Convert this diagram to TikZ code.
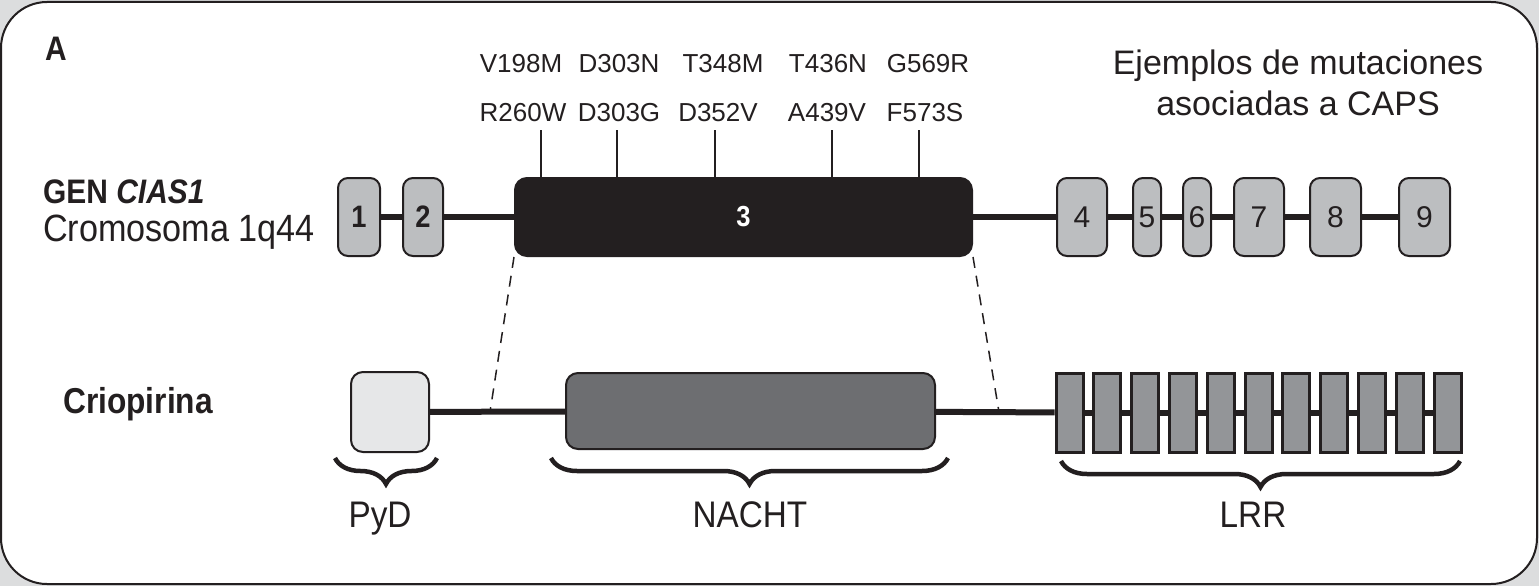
\documentclass[tikz,border=0pt]{standalone}
\usepackage{fontspec}
\setmainfont{Liberation Sans}
\newfontfamily\condbf{Liberation Sans}[FakeStretch=0.88]
\newfontfamily\condrm{Liberation Sans}[FakeStretch=0.9]
\usetikzlibrary{decorations.pathreplacing,positioning}

\definecolor{ink}{HTML}{231F20}
\definecolor{exongray}{HTML}{BCBEC0}
\definecolor{pydgray}{HTML}{E6E7E8}
\definecolor{nachtgray}{HTML}{6D6E71}
\definecolor{lrrgray}{HTML}{939598}
\definecolor{framegray}{HTML}{DCDDDE}

\begin{document}
\begin{tikzpicture}[x=1pt,y=-1pt,
    exon/.style={draw=ink,line width=2pt,fill=exongray,rounded corners=10pt,
      minimum height=78pt,inner sep=0pt,text=ink,font={\fontsize{30}{34}\selectfont}},
    domainbox/.style={draw=ink,line width=2pt,rounded corners=12pt,inner sep=0pt},
    lrr/.style={draw=ink,line width=3pt,fill=lrrgray,minimum width=27pt,
      minimum height=79pt,inner sep=0pt},
    backbone/.style={ink,line width=6pt},
    tick/.style={ink,line width=2.5pt},
    zoomline/.style={ink,line width=1.5pt,dash pattern=on 11pt off 8pt},
    curly/.style={ink,line width=4.5pt,decorate,
      decoration={brace,mirror,amplitude=26pt}},
    mut/.style={anchor=base,inner sep=0pt,text=ink,font={\fontsize{26}{30}\selectfont}},
    domlabel/.style={anchor=base,inner sep=0pt,text=ink,font={\condrm\fontsize{37}{42}\selectfont}},
    heading/.style={anchor=base west,inner sep=0pt,text=ink,
      font={\condbf\bfseries\fontsize{34}{40}\selectfont}}]
  \useasboundingbox (0,0) rectangle (1539,586);
  \fill[framegray] (0,0) rectangle (1539,586);
  \draw[ink,line width=2pt,fill=white,rounded corners=46pt] (1,2) rectangle (1537,584);

  % labels on the left
  \node[heading] (panel) at (45,60) {A};
  \node[heading] (gen) at (43,203) {GEN \itshape CIAS1};
  \node[anchor=base west,inner sep=0pt,text=ink,font={\condrm\fontsize{38}{42}\selectfont}]
    (chrom) at (43,241) {Cromosoma 1q44};
  \node[heading,font={\condbf\bfseries\fontsize{36}{40}\selectfont}] (prot) at (63,413) {Criopirina};

  % exons of the gene
  \node[exon,minimum width=42pt,font={\condbf\bfseries\fontsize{31}{34}\selectfont}] (e1) at (359,217) {1};
  \node[exon,minimum width=40pt,font={\condbf\bfseries\fontsize{31}{34}\selectfont}] (e2) at (423,217) {2};
  \node[exon,minimum width=457pt,fill=ink,text=white,rounded corners=12pt,
    font={\condbf\bfseries\fontsize{29}{32}\selectfont}] (e3) at (743.5,217) {3};
  \node[exon,minimum width=50pt] (e4) at (1082,217) {4};
  \node[exon,minimum width=28pt] (e5) at (1147,217) {5};
  \node[exon,minimum width=28pt] (e6) at (1197,217) {6};
  \node[exon,minimum width=50pt] (e7) at (1259,217) {7};
  \node[exon,minimum width=51pt] (e8) at (1335.5,217) {8};
  \node[exon,minimum width=51pt] (e9) at (1424.5,217) {9};
  \foreach \a/\b in {e1/e2,e2/e3,e3/e4,e4/e5,e5/e6,e6/e7,e7/e8,e8/e9}
    \draw[backbone] (\a) -- (\b);

  % mutations
  \foreach \x/\t [count=\i] in {521/V198M,619/D303N,723/T348M,828/T436N,928/G569R}
    \node[mut] (muta\i) at (\x,73) {\t};
  \foreach \x/\t [count=\i] in {523/R260W,619/D303G,718/D352V,827/A439V,925/F573S}
    \node[mut] (mutb\i) at (\x,121) {\t};
  \foreach \x in {541,617,715,832,919}
    \draw[tick] (\x,130) -- (\x,130 |- e3.north);
  \node[align=center,anchor=north,inner sep=0pt,text=ink,
    font={\fontsize{34}{41}\selectfont}] (caps) at (1298,50)
    {Ejemplos de mutaciones\\asociadas a CAPS};

  % protein domains
  \node[domainbox,fill=pydgray,minimum width=78pt,minimum height=80pt] (pyd) at (390,412) {};
  \node[domainbox,fill=nachtgray,minimum width=369pt,minimum height=76pt] (nacht) at (750.5,411) {};
  \foreach \i in {1,...,11}
    \node[lrr] (l\i) at ({1069.5+37.8*(\i-1)},412.5) {};
  \coordinate (cutL) at (490,412);
  \coordinate (cutR) at (999,412);
  \draw[backbone] (pyd) -- (nacht);
  \draw[backbone] (nacht) -- (l1);
  \foreach \i in {1,...,10} {
    \pgfmathtruncatemacro\j{\i+1}
    \draw[backbone] (l\i) -- (l\j);
  }
  \draw[zoomline] (e3.south west) -- (cutL);
  \draw[zoomline] (e3.south east) -- (cutR);

  % braces
  \coordinate (pydA) at (335,458);
  \coordinate (pydB) at (437,458);
  \coordinate (nachtA) at (551,458);
  \coordinate (nachtB) at (948,458);
  \coordinate (lrrA) at (1061,461);
  \coordinate (lrrB) at (1460,461);
  \draw[curly] (pydA) -- (pydB);
  \draw[curly] (nachtA) -- (nachtB);
  \draw[curly] (lrrA) -- (lrrB);
  \node[domlabel] (pydlab) at (380,527) {PyD};
  \node[domlabel] (nachtlab) at (750,527) {NACHT};
  \node[domlabel] (lrrlab) at (1253,527) {LRR};
\end{tikzpicture}
\end{document}
